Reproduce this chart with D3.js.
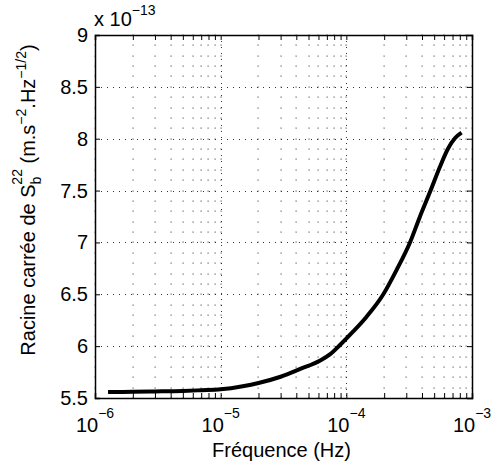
<!DOCTYPE html>
<html><head><meta charset="utf-8">
<script src="https://cdn.jsdelivr.net/npm/d3@7"></script>
<style>body{margin:0;background:#fff;} text{font-family:"Liberation Sans",Arial,Helvetica,sans-serif;fill:#000;}</style>
</head><body>
<svg id="c" width="492" height="467"></svg>
<script>
const freq = [1.27e-6, 2e-6, 3e-6, 5e-6, 7e-6, 1e-5, 1.5e-5, 2e-5, 3e-5, 4.3e-5, 6.2e-5, 7.4e-5, 8.9e-5, 1.13e-4, 1.45e-4, 1.97e-4, 2.51e-4, 3.21e-4, 3.85e-4, 4.68e-4, 5.56e-4, 6.47e-4, 7.31e-4, 8.26e-4];
const sqrtS = [5.558, 5.560, 5.563, 5.568, 5.575, 5.584, 5.614, 5.645, 5.705, 5.78, 5.862, 5.92, 6.011, 6.139, 6.284, 6.5, 6.734, 7.0, 7.248, 7.5, 7.73, 7.908, 8.004, 8.058];
const xTickExps = [-6, -5, -4, -3];
const yTicks = [5.5, 6, 6.5, 7, 7.5, 8, 8.5, 9];

const L = 95, T = 35, W = 377, H = 363;
const FS = 20, FSS = 14;
const svg = d3.select("#c");
const x = d3.scaleLog().domain([1e-6, 1e-3]).range([L, L + W]);
const y = d3.scaleLinear().domain([5.5, 9]).range([T + H, T]);

const xMinor = [];
for (let e = -6; e < -3; e++) for (let k = 2; k <= 9; k++) xMinor.push(k * Math.pow(10, e));
const yMinor = d3.range(55, 91).map(v => v / 10).filter(v => Math.abs(v * 2 - Math.round(v * 2)) > 1e-6);
const xAll = xMinor.concat(xTickExps.map(e => Math.pow(10, e)));
const yAllRows = d3.range(55, 91).map(v => v / 10);

const g = svg.append("g");
xMinor.forEach(fx => {
  yAllRows.forEach(v => {
    g.append("rect").attr("x", Math.round(x(fx)) - 0.5).attr("y", Math.round(y(v)) - 0.5)
      .attr("width", 1.2).attr("height", 1.2).attr("fill", "#666");
  });
});
xTickExps.forEach(e => {
  yMinor.forEach(v => {
    g.append("rect").attr("x", Math.round(x(Math.pow(10, e))) - 0.5).attr("y", Math.round(y(v)) - 0.5)
      .attr("width", 1.2).attr("height", 1.2).attr("fill", "#666");
  });
});
g.selectAll(".gx").data(xTickExps.slice(1, 3)).enter().append("line")
  .attr("x1", d => Math.round(x(Math.pow(10, d))) + 0.5).attr("x2", d => Math.round(x(Math.pow(10, d))) + 0.5)
  .attr("y1", T).attr("y2", T + H).attr("stroke", "#333").attr("stroke-width", 1).attr("stroke-dasharray", "1,5");
g.selectAll(".gy").data(yTicks.slice(1, -1)).enter().append("line")
  .attr("y1", d => Math.round(y(d)) + 0.5).attr("y2", d => Math.round(y(d)) + 0.5)
  .attr("x1", L).attr("x2", L + W).attr("stroke", "#333").attr("stroke-width", 1).attr("stroke-dasharray", "1,5");

const fmtNone = () => "";
const axB = d3.axisBottom(x).tickValues(xAll).tickSize(-5).tickFormat(fmtNone);
const axT = d3.axisTop(x).tickValues(xAll).tickSize(-5).tickFormat(fmtNone);
const axL = d3.axisLeft(y).tickValues(yTicks).tickSize(-5).tickFormat(fmtNone);
const axR = d3.axisRight(y).tickValues(yTicks).tickSize(-5).tickFormat(fmtNone);
function styleAx(s) { s.selectAll("path,line").attr("stroke", "#000").attr("stroke-width", 1); s.select(".domain").attr("stroke-width", 1.5); }
svg.append("g").attr("transform", `translate(0,${T + H})`).call(axB).call(styleAx);
svg.append("g").attr("transform", `translate(0,${T})`).call(axT).call(styleAx);
svg.append("g").attr("transform", `translate(${L},0)`).call(axL).call(styleAx);
svg.append("g").attr("transform", `translate(${L + W},0)`).call(axR).call(styleAx);

const pts = freq.map((f, i) => [f, sqrtS[i]]);
svg.append("path").datum(pts)
  .attr("d", d3.line().x(d => x(d[0])).y(d => y(d[1])).curve(d3.curveMonotoneX))
  .attr("fill", "none").attr("stroke", "#000").attr("stroke-width", 4).attr("stroke-linecap", "butt");

svg.selectAll(".yl").data(yTicks).enter().append("text")
  .attr("x", L - 7).attr("y", d => y(d) + 7).attr("text-anchor", "end")
  .attr("font-size", FS).text(d => d);

xTickExps.forEach(e => {
  const t = svg.append("text").attr("x", x(Math.pow(10, e))).attr("y", T + H + 34)
    .attr("text-anchor", "middle").attr("font-size", FS);
  t.append("tspan").text("10");
  t.append("tspan").attr("dy", -14).attr("font-size", FSS).text("\u2212" + Math.abs(e));
});

const ex = svg.append("text").attr("x", L - 1).attr("y", T - 9).attr("font-size", FS);
ex.append("tspan").text("x 10");
ex.append("tspan").attr("dy", -11).attr("font-size", FSS).text("\u221213");

svg.append("text").attr("x", L + W / 2 - 2).attr("y", 457).attr("text-anchor", "middle")
  .attr("font-size", FS).text("Fréquence (Hz)");

const yt = svg.append("text").attr("transform", `translate(35,200) rotate(-90)`)
  .attr("text-anchor", "middle").attr("font-size", FS);
yt.append("tspan").text("Racine carrée de S");
yt.append("tspan").attr("dy", 6).attr("font-size", FSS).text("b");
yt.append("tspan").attr("dy", -19).attr("dx", -8).attr("font-size", FSS).text("22");
yt.append("tspan").attr("dy", 13).text(" (m.s");
yt.append("tspan").attr("dy", -9).attr("font-size", FSS).text("\u22122");
yt.append("tspan").attr("dy", 9).text(".Hz");
yt.append("tspan").attr("dy", -9).attr("font-size", FSS).text("\u22121/2");
yt.append("tspan").attr("dy", 9).text(")");
</script>
</body></html>
